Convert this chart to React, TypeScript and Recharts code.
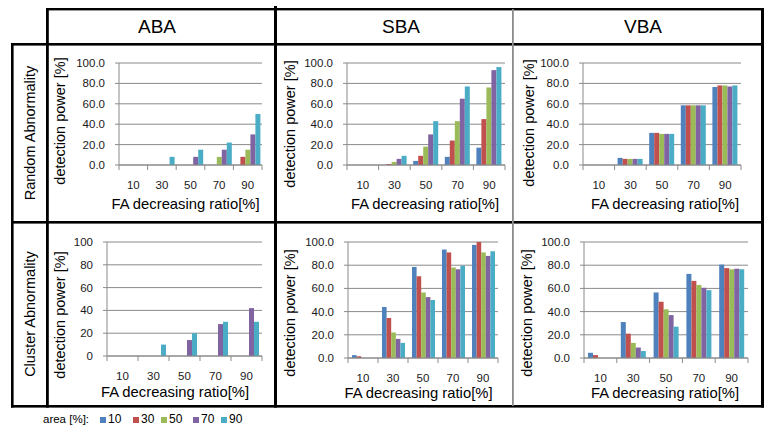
import React from 'react';
import { BarChart, Bar, XAxis, YAxis, CartesianGrid } from 'recharts';

const ratios = ['10', '30', '50', '70', '90'];
const areaLevels = ['10', '30', '50', '70', '90'];
const areaColors = ['#4F81BD', '#C0504D', '#9BBB59', '#8064A2', '#4BACC6'];
const yTicks = [0, 20, 40, 60, 80, 100];
const columnTitles = ['ABA', 'SBA', 'VBA'];
const rowTitles = ['Random Abnormality', 'Cluster Abnormality'];
const legendTitle = 'area [%]:';
const xTitle = 'FA decreasing ratio[%]';
const yTitle = 'detection power [%]';

// each row = one area level (10,30,50,70,90); each column = FA decreasing ratio (10..90)
const randomABA = [
  [0, 0, 0, 0, 0],
  [0, 0, 0, 0, 8],
  [0, 0, 0, 8, 15],
  [0, 0, 8, 15, 30],
  [0, 8, 15, 22, 50],
];
const randomSBA = [
  [0, 0, 4, 8, 17],
  [0, 1, 9, 24, 45],
  [0, 3, 18, 43, 76],
  [0, 6, 30, 65, 93],
  [0, 9, 43, 77, 96],
];
const randomVBA = [
  [0, 7, 31.5, 58.5, 76.5],
  [0, 6, 31.5, 58.5, 78],
  [0, 6, 30.5, 58.5, 78],
  [0, 6, 30.5, 58.5, 77],
  [0, 6, 30.5, 58.5, 78],
];
const clusterABA = [
  [0, 0, 0, 0, 0],
  [0, 0, 0, 0, 0],
  [0, 0, 0, 0, 0],
  [0, 0, 14, 28, 42],
  [0, 10, 20, 30, 30],
];
const clusterSBA = [
  [2.5, 44, 78.5, 93.5, 97.5],
  [1.5, 34.5, 70.5, 91, 100],
  [0, 22, 56.5, 78, 91],
  [0, 16.5, 52.5, 76.5, 88],
  [0, 13, 50, 79.5, 92],
];
const clusterVBA = [
  [4.5, 31, 56.5, 72.5, 80.5],
  [2.5, 21, 48.5, 66.5, 77.5],
  [0, 13, 42, 63, 76.5],
  [0, 9, 37, 60.5, 77],
  [0, 6, 27, 58.5, 76.5],
];

const FONT = '"Liberation Sans", Arial, sans-serif';
const AXIS = '#8a8a8a';
const TEXT = '#1a1a1a';

type Panel = {
  id: string;
  values: number[][];
  cell: { x: number; y: number; w: number; h: number };
  plot: { l: number; r: number; t: number; b: number };
  decimals: number;
  yTitleD: number;
  yTitleDy: number;
  xTitleDx: number;
  xTitleDy: number;
  barSize: number;
};

const colX = [49, 277, 514];
const colW = [225, 235, 247];
const rowY = [46, 224];
const rowH = [175, 181];

const panels: Panel[] = [
  { id: 'rABA', values: randomABA, cell: { x: colX[0], y: rowY[0], w: colW[0], h: rowH[0] }, plot: { l: 119, r: 262, t: 63, b: 165 }, decimals: 1, yTitleD: 59, yTitleDy: 7, xTitleDx: -5, xTitleDy: 18.5, barSize: 5 },
  { id: 'rSBA', values: randomSBA, cell: { x: colX[1], y: rowY[0], w: colW[1], h: rowH[0] }, plot: { l: 347, r: 505, t: 63, b: 165 }, decimals: 1, yTitleD: 57, yTitleDy: 10, xTitleDx: -1, xTitleDy: 18.5, barSize: 5 },
  { id: 'rVBA', values: randomVBA, cell: { x: colX[2], y: rowY[0], w: colW[2], h: rowH[0] }, plot: { l: 583, r: 741, t: 63, b: 165 }, decimals: 1, yTitleD: 54, yTitleDy: 9, xTitleDx: 3, xTitleDy: 18.5, barSize: 5 },
  { id: 'cABA', values: clusterABA, cell: { x: colX[0], y: rowY[1], w: colW[0], h: rowH[1] }, plot: { l: 107, r: 262, t: 242, b: 356 }, decimals: 0, yTitleD: 47, yTitleDy: 16, xTitleDx: -9.5, xTitleDy: 15.7, barSize: 5 },
  { id: 'cSBA', values: clusterSBA, cell: { x: colX[1], y: rowY[1], w: colW[1], h: rowH[1] }, plot: { l: 348, r: 498, t: 242, b: 358 }, decimals: 1, yTitleD: 58, yTitleDy: 13, xTitleDx: -4.5, xTitleDy: 14.3, barSize: 4.6 },
  { id: 'cVBA', values: clusterVBA, cell: { x: colX[2], y: rowY[1], w: colW[2], h: rowH[1] }, plot: { l: 584, r: 748, t: 242, b: 358 }, decimals: 1, yTitleD: 57.5, yTitleDy: 13, xTitleDx: -1, xTitleDy: 15, barSize: 5 },
];

const Y_W = 50;
const X_H = 40;

function PanelChart({ p }: { p: Panel }) {
  const data = ratios.map((r, i) => {
    const row: Record<string, any> = { ratio: r };
    areaLevels.forEach((a, k) => {
      row['a' + a] = p.values[k][i];
    });
    return row;
  });
  const margin = {
    left: p.plot.l - p.cell.x - Y_W,
    right: p.cell.x + p.cell.w - p.plot.r,
    top: p.plot.t - p.cell.y,
    bottom: p.cell.y + p.cell.h - p.plot.b - X_H,
  };
  const band = (p.plot.r - p.plot.l) / ratios.length;
  const renderXTick = (props: any) => {
    const { x, y, payload, index } = props;
    const half = band / 2;
    return (
      <g>
        <line x1={x - half} y1={y} x2={x - half} y2={y + 5} stroke={AXIS} />
        {index === ratios.length - 1 && (
          <line x1={x + half} y1={y} x2={x + half} y2={y + 5} stroke={AXIS} />
        )}
        <text x={x} y={y + 24} textAnchor="middle" fontSize={11.5} fill={TEXT}>
          {payload.value}
        </text>
      </g>
    );
  };
  return (
    <div style={{ position: 'absolute', left: p.cell.x, top: p.cell.y }}>
      <BarChart
        width={p.cell.w}
        height={p.cell.h}
        data={data}
        margin={margin}
        barGap={0}
        barSize={p.barSize}
      >
        <CartesianGrid vertical={false} stroke={AXIS} />
        <XAxis
          dataKey="ratio"
          height={X_H}
          interval={0}
          axisLine={{ stroke: AXIS }}
          tickLine={false}
          tickSize={0}
          tickMargin={0}
          tick={renderXTick}
          label={{ value: xTitle, position: 'center', dx: p.xTitleDx, dy: p.xTitleDy, fontSize: 14.8, fill: '#000' }}
        />
        <YAxis
          width={Y_W}
          domain={[0, 100]}
          ticks={yTicks}
          interval={0}
          tickFormatter={(v: number) => v.toFixed(p.decimals)}
          axisLine={{ stroke: AXIS }}
          tickLine={{ stroke: AXIS }}
          tickSize={4}
          tickMargin={10}
          tick={{ fontSize: 11.5, fill: TEXT }}
          label={{ value: yTitle, angle: -90, position: 'center', dx: Y_W / 2 - p.yTitleD, dy: p.yTitleDy, fontSize: 14.5, fill: '#000' }}
        />
        {areaLevels.map((a, k) => (
          <Bar key={a} dataKey={'a' + a} fill={areaColors[k]} isAnimationActive={false} />
        ))}
      </BarChart>
    </div>
  );
}

const headerX = [157, 401, 643];
const rowCenterY = [133, 314];
const legendX = [100, 133, 161, 193, 221];

export default function App() {
  return (
    <div
      style={{
        position: 'absolute',
        left: 0,
        top: 0,
        width: 764,
        height: 425,
        background: '#fff',
        fontFamily: FONT,
        overflow: 'hidden',
      }}
    >
      <svg width={764} height={425} style={{ position: 'absolute', left: 0, top: 0 }}>
        {/* table lines */}
        <rect x={46} y={8} width={718} height={2.4} fill="#000" />
        <rect x={11} y={43} width={753} height={2.6} fill="#000" />
        <rect x={11} y={221} width={753} height={2.6} fill="#000" />
        <rect x={11} y={405} width={753} height={2.6} fill="#000" />
        <rect x={11} y={43} width={2.6} height={364.6} fill="#000" />
        <rect x={46} y={8} width={2.8} height={399.6} fill="#000" />
        <rect x={274} y={6} width={3} height={401.6} fill="#000" />
        <rect x={512} y={9} width={1.8} height={397} fill="#8c8c8c" />
        <rect x={761} y={8} width={3} height={399.6} fill="#000" />
        {columnTitles.map((t, i) => (
          <text key={t} x={headerX[i]} y={33} textAnchor="middle" fontSize={19} fill="#000">
            {t}
          </text>
        ))}
        {rowTitles.map((t, i) => (
          <text
            key={t}
            transform={`translate(35, ${rowCenterY[i]}) rotate(-90)`}
            textAnchor="middle"
            fontSize={14.5}
            fill="#000"
          >
            {t}
          </text>
        ))}
        <text x={43} y={422.5} fontSize={11.5} fill="#000">
          {legendTitle}
        </text>
        {areaLevels.map((a, k) => (
          <g key={a}>
            <rect x={legendX[k]} y={417} width={6} height={6} fill={areaColors[k]} />
            <text x={legendX[k] + 8} y={423} fontSize={12} fill="#000">
              {a}
            </text>
          </g>
        ))}
      </svg>
      {panels.map((p) => (
        <PanelChart key={p.id} p={p} />
      ))}
    </div>
  );
}
